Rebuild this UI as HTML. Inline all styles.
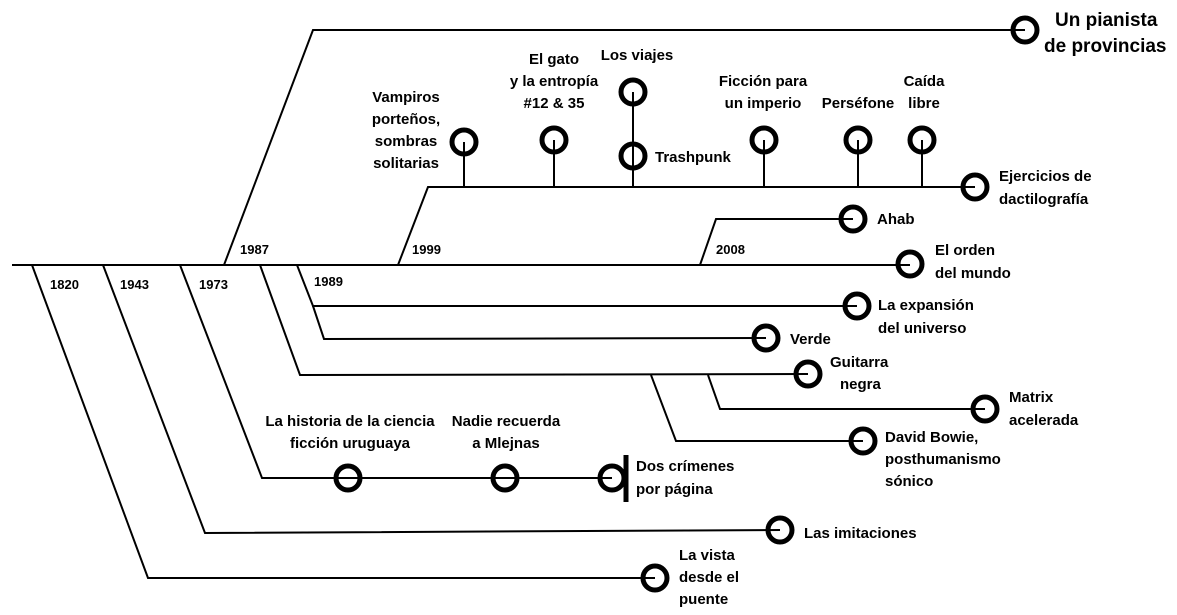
<!DOCTYPE html>
<html><head><meta charset="utf-8"><style>
html,body{margin:0;padding:0;background:#fff;}
svg{display:block;}
text{font-family:"Liberation Sans",sans-serif;font-weight:bold;font-size:15px;fill:#000;}
.y{font-size:13px;}
.big{font-size:19px;}
</style></head><body>
<svg width="1177" height="615" viewBox="0 0 1177 615" xmlns="http://www.w3.org/2000/svg">
<g stroke="#000" stroke-width="2" fill="none">
<line x1="12" y1="265" x2="910" y2="265"/>
<polyline points="32,265 148,578 655,578"/>
<polyline points="103,265 205,533 780,530"/>
<polyline points="180,265 262,478 612,478"/>
<polyline points="260,265 300,375 808,374"/>
<polyline points="224,265 313,30 1025,30"/>
<polyline points="297,265 313,306 857,306"/>
<polyline points="313,306 324,339 766,338"/>
<polyline points="651,375 676,441 863,441"/>
<polyline points="708,375 720,409 985,409"/>
<polyline points="398,265 428,187 975,187"/>
<polyline points="700,265 716,219 853,219"/>
<line x1="464" y1="187" x2="464" y2="142"/>
<line x1="554" y1="187" x2="554" y2="140"/>
<line x1="633" y1="187" x2="633" y2="92"/>
<line x1="764" y1="187" x2="764" y2="140"/>
<line x1="858" y1="187" x2="858" y2="140"/>
<line x1="922" y1="187" x2="922" y2="140"/>
</g>
<g stroke="#000" stroke-width="5" fill="none">
<circle cx="1025" cy="30" r="12"/>
<circle cx="464" cy="142" r="12"/>
<circle cx="554" cy="140" r="12"/>
<circle cx="633" cy="92" r="12"/>
<circle cx="633" cy="156" r="12"/>
<circle cx="764" cy="140" r="12"/>
<circle cx="858" cy="140" r="12"/>
<circle cx="922" cy="140" r="12"/>
<circle cx="975" cy="187" r="12"/>
<circle cx="853" cy="219" r="12"/>
<circle cx="910" cy="264" r="12"/>
<circle cx="857" cy="306" r="12"/>
<circle cx="766" cy="338" r="12"/>
<circle cx="808" cy="374" r="12"/>
<circle cx="985" cy="409" r="12"/>
<circle cx="863" cy="441" r="12"/>
<circle cx="780" cy="530" r="12"/>
<circle cx="655" cy="578" r="12"/>
<circle cx="348" cy="478" r="12"/>
<circle cx="505" cy="478" r="12"/>
<circle cx="612" cy="478" r="12"/>
<line x1="626" y1="455" x2="626" y2="502"/>
</g>
<text class="y" x="50" y="289">1820</text>
<text class="y" x="120" y="289">1943</text>
<text class="y" x="199" y="289">1973</text>
<text class="y" x="240" y="254">1987</text>
<text class="y" x="314" y="286">1989</text>
<text class="y" x="412" y="254">1999</text>
<text class="y" x="716" y="254">2008</text>
<text class="big" x="1055" y="26">Un pianista</text>
<text class="big" x="1044" y="52">de provincias</text>
<g text-anchor="middle">
<text x="406" y="102">Vampiros</text>
<text x="406" y="124">porteños,</text>
<text x="406" y="146">sombras</text>
<text x="406" y="168">solitarias</text>
<text x="554" y="64">El gato</text>
<text x="554" y="86">y la entropía</text>
<text x="554" y="108">#12 &amp; 35</text>
<text x="637" y="60">Los viajes</text>
<text x="763" y="86">Ficción para</text>
<text x="763" y="108">un imperio</text>
<text x="858" y="108">Perséfone</text>
<text x="924" y="86">Caída</text>
<text x="924" y="108">libre</text>
<text x="350" y="426">La historia de la ciencia</text>
<text x="350" y="448">ficción uruguaya</text>
<text x="506" y="426">Nadie recuerda</text>
<text x="506" y="448">a Mlejnas</text>
</g>
<text x="655" y="162">Trashpunk</text>
<text x="999" y="181">Ejercicios de</text>
<text x="999" y="204">dactilografía</text>
<text x="877" y="224">Ahab</text>
<text x="935" y="255">El orden</text>
<text x="935" y="278">del mundo</text>
<text x="878" y="310">La expansión</text>
<text x="878" y="333">del universo</text>
<text x="790" y="344">Verde</text>
<text x="830" y="367">Guitarra</text>
<text x="840" y="389">negra</text>
<text x="1009" y="402">Matrix</text>
<text x="1009" y="425">acelerada</text>
<text x="885" y="442">David Bowie,</text>
<text x="885" y="464">posthumanismo</text>
<text x="885" y="486">sónico</text>
<text x="636" y="471">Dos crímenes</text>
<text x="636" y="494">por página</text>
<text x="804" y="538">Las imitaciones</text>
<text x="679" y="560">La vista</text>
<text x="679" y="582">desde el</text>
<text x="679" y="604">puente</text>
</svg>
</body></html>
